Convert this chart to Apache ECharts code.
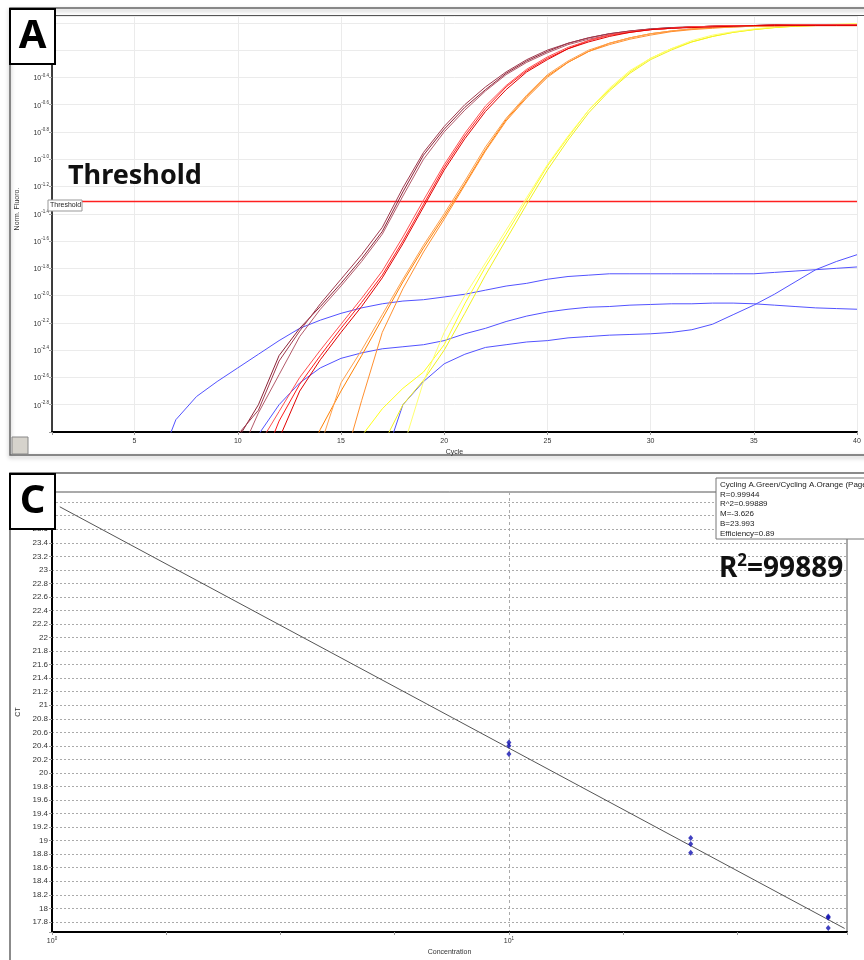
<!DOCTYPE html>
<html>
<head>
<meta charset="utf-8">
<title>qPCR amplification and standard curve</title>
<script src="https://cdn.jsdelivr.net/npm/echarts@6/dist/echarts.min.js"></script>
<style>
  html, body { margin: 0; padding: 0; background: #fff; }
  #chart { width: 864px; height: 960px; }
</style>
</head>
<body>
<div id="chart"></div>
<script>
// panel A: amplification curves, values are log10(Norm. Fluoro.) per cycle
const cycles = [1, 2, 3, 4, 5, 6, 7, 8, 9, 10, 11, 12, 13, 14, 15, 16, 17, 18, 19, 20,
  21, 22, 23, 24, 25, 26, 27, 28, 29, 30, 31, 32, 33, 34, 35, 36, 37, 38, 39, 40];

const brown1 = [null, null, null, null, null, null, null, null, null,
  -3.05, -2.80, -2.44, -2.24, -2.08, -1.91, -1.73, -1.53, -1.24, -0.97,
  -0.78, -0.62, -0.49, -0.37, -0.28, -0.21, -0.15, -0.11, -0.08, -0.06,
  -0.045, -0.035, -0.03, -0.025, -0.02, -0.02, -0.015, -0.015, -0.015, -0.015, -0.015];
const brown2 = [null, null, null, null, null, null, null, null, null,
  -3.20, -2.86, -2.58, -2.30, -2.10, -1.93, -1.75, -1.55, -1.27, -1.00,
  -0.80, -0.64, -0.50, -0.38, -0.29, -0.22, -0.16, -0.12, -0.09, -0.065,
  -0.05, -0.04, -0.03, -0.025, -0.025, -0.02, -0.02, -0.02, -0.02, -0.02, -0.02];
const brown3 = [null, null, null, null, null, null, null, null, null,
  -3.02, -2.84, -2.48, -2.26, -2.06, -1.88, -1.70, -1.50, -1.21, -0.95,
  -0.76, -0.60, -0.47, -0.36, -0.27, -0.20, -0.15, -0.11, -0.08, -0.06,
  -0.045, -0.035, -0.03, -0.025, -0.02, -0.02, -0.015, -0.015, -0.015, -0.015, -0.015];

const red1 = [null, null, null, null, null, null, null, null, null, null,
  -3.30, -2.92, -2.65, -2.44, -2.24, -2.05, -1.85, -1.60, -1.33,
  -1.06, -0.83, -0.63, -0.47, -0.35, -0.26, -0.19, -0.13, -0.09, -0.07,
  -0.05, -0.04, -0.03, -0.025, -0.02, -0.02, -0.015, -0.015, -0.015, -0.015, -0.015];
const red2 = [null, null, null, null, null, null, null, null, null, null,
  -3.10, -2.85, -2.60, -2.40, -2.21, -2.02, -1.82, -1.57, -1.30,
  -1.04, -0.81, -0.61, -0.46, -0.34, -0.25, -0.18, -0.13, -0.09, -0.065,
  -0.05, -0.04, -0.03, -0.025, -0.02, -0.02, -0.02, -0.015, -0.015, -0.015, -0.015];
const red3 = [null, null, null, null, null, null, null, null, null, null, null,
  -3.05, -2.70, -2.47, -2.27, -2.08, -1.87, -1.62, -1.35,
  -1.08, -0.85, -0.65, -0.49, -0.36, -0.27, -0.19, -0.14, -0.10, -0.07,
  -0.05, -0.04, -0.035, -0.03, -0.025, -0.02, -0.02, -0.02, -0.02, -0.02, -0.02];

const orange1 = [null, null, null, null, null, null, null, null, null, null, null, null,
  -3.30, -2.98, -2.70, -2.44, -2.17, -1.90, -1.65,
  -1.42, -1.18, -0.93, -0.71, -0.54, -0.39, -0.29, -0.21, -0.15, -0.11,
  -0.08, -0.06, -0.045, -0.035, -0.03, -0.025, -0.02, -0.02, -0.02, -0.02, -0.02];
const orange2 = [null, null, null, null, null, null, null, null, null, null, null, null, null,
  -3.10, -2.64, -2.40, -2.14, -1.88, -1.63,
  -1.40, -1.16, -0.91, -0.70, -0.53, -0.38, -0.28, -0.20, -0.15, -0.11,
  -0.08, -0.06, -0.045, -0.035, -0.03, -0.025, -0.02, -0.02, -0.02, -0.02, -0.02];
const orange3 = [null, null, null, null, null, null, null, null, null, null, null, null, null, null,
  -3.30, -2.77, -2.27, -1.95, -1.68,
  -1.44, -1.19, -0.94, -0.72, -0.55, -0.40, -0.29, -0.21, -0.16, -0.12,
  -0.09, -0.065, -0.05, -0.04, -0.03, -0.025, -0.025, -0.02, -0.02, -0.02, -0.02];

const yellow1 = [null, null, null, null, null, null, null, null, null, null, null, null, null, null, null,
  -3.03, -2.83, -2.68, -2.56,
  -2.36, -2.06, -1.79, -1.55, -1.30, -1.05, -0.84, -0.64, -0.49, -0.36,
  -0.26, -0.19, -0.14, -0.10, -0.07, -0.05, -0.035, -0.025, -0.02, -0.015, -0.01];
const yellow2 = [null, null, null, null, null, null, null, null, null, null, null, null, null, null, null, null,
  -3.10, -2.80, -2.62,
  -2.40, -2.13, -1.85, -1.59, -1.33, -1.08, -0.86, -0.66, -0.50, -0.37,
  -0.27, -0.20, -0.14, -0.10, -0.07, -0.05, -0.035, -0.025, -0.02, -0.015, -0.01];
const yellow3 = [null, null, null, null, null, null, null, null, null, null, null, null, null, null, null, null, null,
  -3.12, -2.63,
  -2.27, -2.00, -1.76, -1.52, -1.28, -1.04, -0.83, -0.64, -0.48, -0.35,
  -0.26, -0.19, -0.13, -0.09, -0.065, -0.045, -0.03, -0.02, -0.015, -0.01, -0.005];

const blue1 = [null, null, null, null, null,
  -3.30, -2.91, -2.74, -2.63,
  -2.53, -2.43, -2.33, -2.24, -2.18, -2.13, -2.09, -2.06, -2.04, -2.03,
  -2.01, -1.99, -1.96, -1.93, -1.91, -1.88, -1.86, -1.85, -1.84, -1.84,
  -1.84, -1.84, -1.84, -1.84, -1.84, -1.84, -1.83, -1.82, -1.81, -1.80, -1.79];
const blue2 = [null, null, null, null, null, null, null, null, null, null,
  -3.02, -2.80, -2.64, -2.53, -2.46, -2.42, -2.39, -2.375, -2.36,
  -2.33, -2.28, -2.24, -2.19, -2.15, -2.12, -2.10, -2.085, -2.08, -2.07,
  -2.065, -2.06, -2.06, -2.055, -2.055, -2.06, -2.07, -2.08, -2.09, -2.095, -2.10];
const blue3 = [null, null, null, null, null, null, null, null, null, null, null, null, null, null, null, null,
  -3.25, -2.80, -2.63,
  -2.50, -2.43, -2.38, -2.36, -2.34, -2.33, -2.31, -2.30, -2.29, -2.285,
  -2.28, -2.27, -2.25, -2.21, -2.14, -2.07, -1.99, -1.90, -1.81, -1.75, -1.70];

const thresholdLevel = -1.31;

// panel C: standard curve
const concentration = [10, 10, 10, 25, 25, 25, 50, 50, 50];
const ctValues = [20.45, 20.40, 20.28, 19.04, 18.95, 18.82, 17.88, 17.86, 17.71];
const fitSlope = -3.626;
const fitIntercept = 23.993;
const fitRange = [1.04, 54.3];
const statLines = ['Cycling A.Green/Cycling A.Orange (Page 1)', 'R=0.99944', 'R^2=0.99889',
  'M=-3.626', 'B=23.993', 'Efficiency=0.89'];

const FONT = '"Liberation Sans", Arial, sans-serif';
const BIG = '"Noto Sans", "DejaVu Sans", sans-serif';

const chart = echarts.init(document.getElementById('chart'), null, {renderer: 'canvas'});

const curves = [
  [blue1, '#5252ff'], [blue2, '#5252ff'], [blue3, '#5252ff'],
  [yellow1, '#ffff1a'], [yellow2, '#f0f020'], [yellow3, '#ffff70'],
  [orange1, '#ff8000'], [orange2, '#ffa04d'], [orange3, '#ff9030'],
  [brown1, '#8c2236'], [brown2, '#b35a6a'], [brown3, '#a03a4e'],
  [red1, '#ff1a1a'], [red2, '#ff5050'], [red3, '#e00000']
];

function toPairs(arr) {
  const out = [];
  cycles.forEach((c, i) => { if (arr[i] !== null) out.push([c, arr[i]]); });
  return out;
}

// threshold drawn as a horizontal line across the whole cycle range
const series = [{
  name: 'Threshold',
  type: 'line',
  xAxisIndex: 0,
  yAxisIndex: 0,
  data: [[cycles[0], thresholdLevel], [cycles[cycles.length - 1], thresholdLevel]],
  showSymbol: false,
  symbol: 'none',
  silent: true,
  itemStyle: {color: '#ff2020'},
  lineStyle: {color: '#ff2020', width: 1.5, opacity: 1},
  z: 2
}];

curves.forEach(([arr, color], i) => {
  series.push({
    type: 'line',
    xAxisIndex: 0,
    yAxisIndex: 0,
    data: toPairs(arr),
    showSymbol: false,
    symbol: 'none',
    silent: true,
    clip: true,
    itemStyle: {color: color},
    lineStyle: {color: color, width: 1},
    z: 3
  });
});

series.push({
  type: 'line',
  xAxisIndex: 1,
  yAxisIndex: 1,
  data: fitRange.map(c => [Math.log10(c), fitIntercept + fitSlope * Math.log10(c)]),
  showSymbol: false,
  symbol: 'none',
  silent: true,
  itemStyle: {color: '#555'},
  lineStyle: {color: '#555', width: 1}
});

series.push({
  type: 'scatter',
  xAxisIndex: 1,
  yAxisIndex: 1,
  data: concentration.map((c, i) => [Math.log10(c), ctValues[i]]),
  symbol: 'diamond',
  symbolSize: [5, 6],
  itemStyle: {color: '#1010b0'},
  z: 5
});

const supRich = {
  b: {fontSize: 7, lineHeight: 9, verticalAlign: 'bottom', color: '#333', fontFamily: FONT},
  s: {fontSize: 4.5, lineHeight: 5, verticalAlign: 'top', color: '#333', fontFamily: FONT}
};

const option = {
  animation: false,
  backgroundColor: '#fff',
  grid: [
    {left: 52, right: 7, top: 16, bottom: 528},
    {left: 52, right: 17, top: 492, bottom: 28, show: true, borderColor: '#555', borderWidth: 1}
  ],
  xAxis: [
    {
      gridIndex: 0, type: 'value', min: 1, max: 40, splitNumber: 8,
      name: 'Cycle', nameLocation: 'middle', nameGap: 17,
      nameTextStyle: {fontSize: 7, color: '#333', fontFamily: FONT},
      axisLine: {onZero: false, lineStyle: {color: '#000', width: 2}},
      axisTick: {length: 3, lineStyle: {color: '#999'}},
      axisLabel: {fontSize: 7, color: '#333', margin: 6, fontFamily: FONT,
        formatter: v => (v % 5 === 0 ? String(v) : '')},
      splitLine: {show: true, lineStyle: {color: '#ebebeb', width: 1}}
    },
    {
      gridIndex: 1, type: 'value', min: 0, max: 1.74, interval: 0.25,
      name: 'Concentration', nameLocation: 'middle', nameGap: 17,
      nameTextStyle: {fontSize: 7, color: '#333', fontFamily: FONT},
      axisLine: {onZero: false, lineStyle: {color: '#000', width: 2}},
      axisTick: {length: 3, lineStyle: {color: '#999'}},
      axisLabel: {margin: 4, rich: supRich, formatter: v => {
        if (Math.abs(v) < 1e-9) return '{b|10}{s|0}';
        if (Math.abs(v - 1) < 1e-9) return '{b|10}{s|1}';
        return '';
      }},
      splitLine: {show: false}
    },
    {
      gridIndex: 1, type: 'value', min: 0, max: 1.74, interval: 1,
      axisLine: {show: false}, axisTick: {show: false}, axisLabel: {show: false},
      splitLine: {show: true, lineStyle: {color: '#aaa', width: 1, type: [3, 3]}}
    }
  ],
  yAxis: [
    {
      gridIndex: 0, type: 'value', min: -3, max: 0.05, interval: 0.2,
      name: 'Norm. Fluoro.', nameLocation: 'middle', nameGap: 31,
      nameTextStyle: {fontSize: 7, color: '#333', fontFamily: FONT, padding: [0, 0, 0, 30]},
      axisLine: {onZero: false, lineStyle: {color: '#000', width: 1.5}},
      axisTick: {length: 3, lineStyle: {color: '#999'}},
      axisLabel: {margin: 3, rich: supRich, formatter: v => {
        const r = Math.round(v * 10) / 10;
        if (Math.abs(v - r) > 1e-6 || r > -0.3 || r < -2.9) return '';
        return '{b|10}{s|' + r.toFixed(1) + '}';
      }},
      splitLine: {show: true, lineStyle: {color: '#ebebeb', width: 1}}
    },
    {
      gridIndex: 1, type: 'value', min: 17.65, max: 24.15, splitNumber: 32,
      name: 'CT', nameLocation: 'middle', nameGap: 29,
      nameTextStyle: {fontSize: 7, color: '#333', fontFamily: FONT},
      axisLine: {onZero: false, lineStyle: {color: '#000', width: 2}},
      axisTick: {length: 3, lineStyle: {color: '#999'}},
      axisLabel: {fontSize: 8, color: '#333', margin: 4, fontFamily: FONT, formatter: v => {
        if (Math.abs(v - 17.65) < 1e-6 || Math.abs(v - 24.15) < 1e-6) return '';
        return String(Math.round(v * 10) / 10);
      }},
      splitLine: {show: true, lineStyle: {color: '#aaa', width: 1, type: [2, 2]}}
    }
  ],
  graphic: [
    // panel frames
    {type: 'rect', z: 0, shape: {x: 10, y: 8, width: 870, height: 447},
      style: {fill: 'none', stroke: '#666', lineWidth: 1.5, shadowBlur: 4, shadowColor: 'rgba(0,0,0,0.35)', shadowOffsetY: 2}},
    {type: 'line', z: 1, shape: {x1: 52, y1: 15.5, x2: 864, y2: 15.5}, style: {stroke: '#555', lineWidth: 1}},
    {type: 'rect', z: 0, shape: {x: 10, y: 473, width: 870, height: 500},
      style: {fill: 'none', stroke: '#666', lineWidth: 1.5}},
    {type: 'rect', z: 10, shape: {x: 12, y: 437, width: 16, height: 17},
      style: {fill: '#d6d3cc', stroke: '#888', lineWidth: 1}},
    // panel letters
    {type: 'rect', z: 20, shape: {x: 10, y: 9, width: 45, height: 55},
      style: {fill: '#fff', stroke: '#000', lineWidth: 2}},
    {type: 'text', z: 21, x: 32.5, y: 37, style: {text: 'A', font: 'bold 40px ' + BIG, fill: '#000',
      align: 'center', verticalAlign: 'middle'}},
    {type: 'rect', z: 20, shape: {x: 10, y: 474, width: 45, height: 55},
      style: {fill: '#fff', stroke: '#000', lineWidth: 2}},
    {type: 'text', z: 21, x: 32.5, y: 502, style: {text: 'C', font: 'bold 40px ' + BIG, fill: '#000',
      align: 'center', verticalAlign: 'middle'}},
    // threshold labels
    {type: 'rect', z: 20, shape: {x: 48, y: 200, width: 34, height: 11},
      style: {fill: '#fff', stroke: '#999', lineWidth: 1}},
    {type: 'text', z: 21, x: 50, y: 205.5, style: {text: 'Threshold', font: '7px ' + FONT, fill: '#222',
      verticalAlign: 'middle'}},
    {type: 'text', z: 21, x: 68, y: 176, style: {text: 'Threshold', font: 'bold 27px ' + BIG, fill: '#111',
      verticalAlign: 'middle'}},
    // standard curve statistics box
    {type: 'rect', z: 20, shape: {x: 716, y: 478, width: 160, height: 61},
      style: {fill: '#fff', stroke: '#777', lineWidth: 1}},
    {type: 'text', z: 21, x: 720, y: 480, style: {text: statLines.join('\n'), font: '8px ' + FONT,
      lineHeight: 9.7, fill: '#222'}},
    {type: 'text', z: 21, x: 719, y: 568, style: {
      text: '{a|R}{s|2}{a|=99889}', verticalAlign: 'middle',
      rich: {
        a: {font: 'bold 28px ' + BIG, fill: '#111', lineHeight: 30, verticalAlign: 'bottom'},
        s: {font: 'bold 17px ' + BIG, fill: '#111', lineHeight: 18, verticalAlign: 'top'}
      }}}
  ],
  series: series
};

chart.setOption(option);
</script>
</body>
</html>
